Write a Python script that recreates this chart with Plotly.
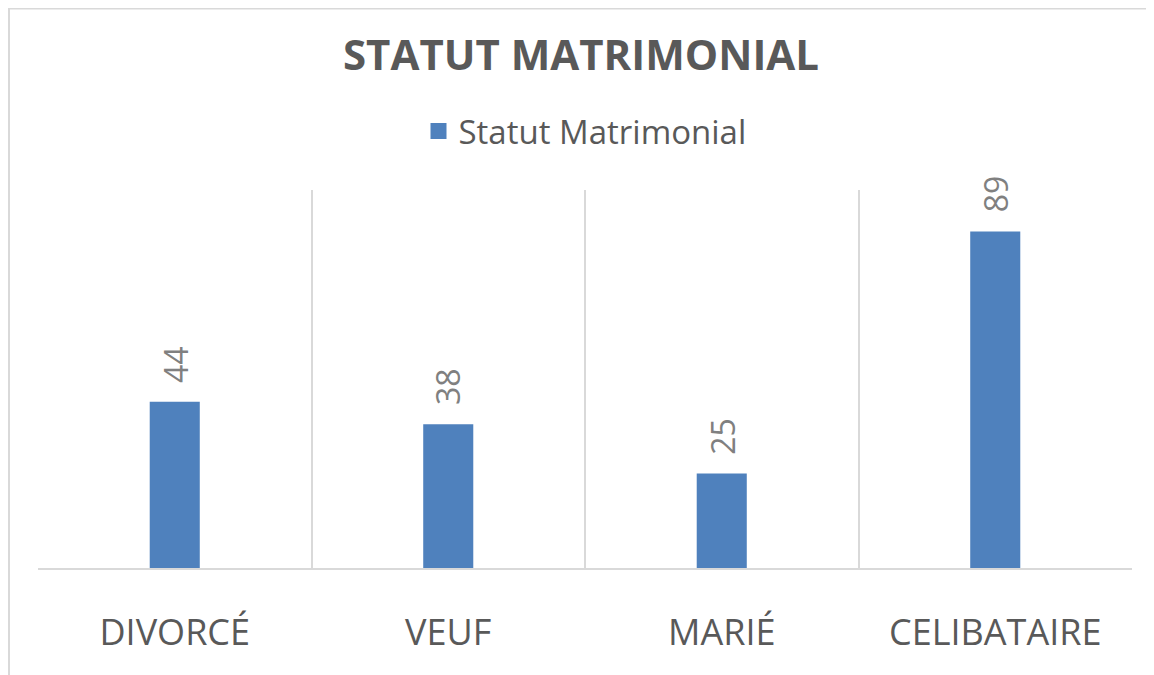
import plotly.graph_objects as go

categories = ["DIVORCÉ", "VEUF", "MARIÉ", "CELIBATAIRE"]
values = [44, 38, 25, 89]
series_name = "Statut Matrimonial"
title_text = "STATUT MATRIMONIAL"

# page body has an 8px margin; figure sized to fill the rest of the window
OFF = 8
W, H = 1154 - OFF, 675 - OFF
L, R, T, B = 38 - OFF, 22, 190 - OFF, 107
plot_h = H - T - B
plot_w = W - L - R

fig = go.Figure()
fig.add_trace(go.Bar(
    x=categories, y=values, name=series_name,
    marker=dict(color="#4f81bd", line=dict(width=0)),
    width=0.183,
    showlegend=False,
    cliponaxis=False,
))
# legend entry with a larger square swatch
fig.add_trace(go.Scatter(
    x=[None], y=[None], mode="markers", name=series_name,
    marker=dict(symbol="square", size=22, color="#4f81bd"),
))

for c, v in zip(categories, values):
    fig.add_annotation(x=c, y=v, text=str(v), showarrow=False,
                       textangle=-90, xanchor="center", yanchor="bottom",
                       yshift=17,
                       font=dict(family="Open Sans", size=32, color="#808080"))

fig.update_layout(
    width=W, height=H,
    margin=dict(l=L, r=R, t=T, b=B),
    paper_bgcolor="white", plot_bgcolor="white",
    title=dict(text="<b>" + title_text + "</b>", x=0.5, xanchor="center",
               y=1 - (55 - OFF) / H, yanchor="middle",
               font=dict(family="Open Sans", size=42, color="#595959")),
    showlegend=True,
    legend=dict(orientation="h", x=0.5, xanchor="center",
                y=(H - B - (131 - OFF)) / plot_h, yanchor="middle",
                font=dict(family="Open Sans", size=33, color="#595959"),
                itemsizing="trace", itemwidth=30),
    xaxis=dict(range=[-0.5, 3.5], tickson="boundaries", showgrid=True,
               gridcolor="#d9d9d9", gridwidth=1.5, ticks="",
               showline=True, linecolor="#d9d9d9", linewidth=2,
               ticklabelstandoff=32,
               tickfont=dict(family="Open Sans", size=36, color="#595959")),
    yaxis=dict(range=[0, 100], visible=False, showgrid=False, zeroline=False),
    font=dict(family="Open Sans"),
)

fig.add_shape(type="rect", xref="paper", yref="paper",
              x0=(1 - L) / plot_w, x1=1.2,
              y0=-0.6, y1=(H - B - 0.5) / plot_h,
              line=dict(color="#d9d9d9", width=2), fillcolor="rgba(0,0,0,0)",
              layer="below")

fig.write_html("out.html")
